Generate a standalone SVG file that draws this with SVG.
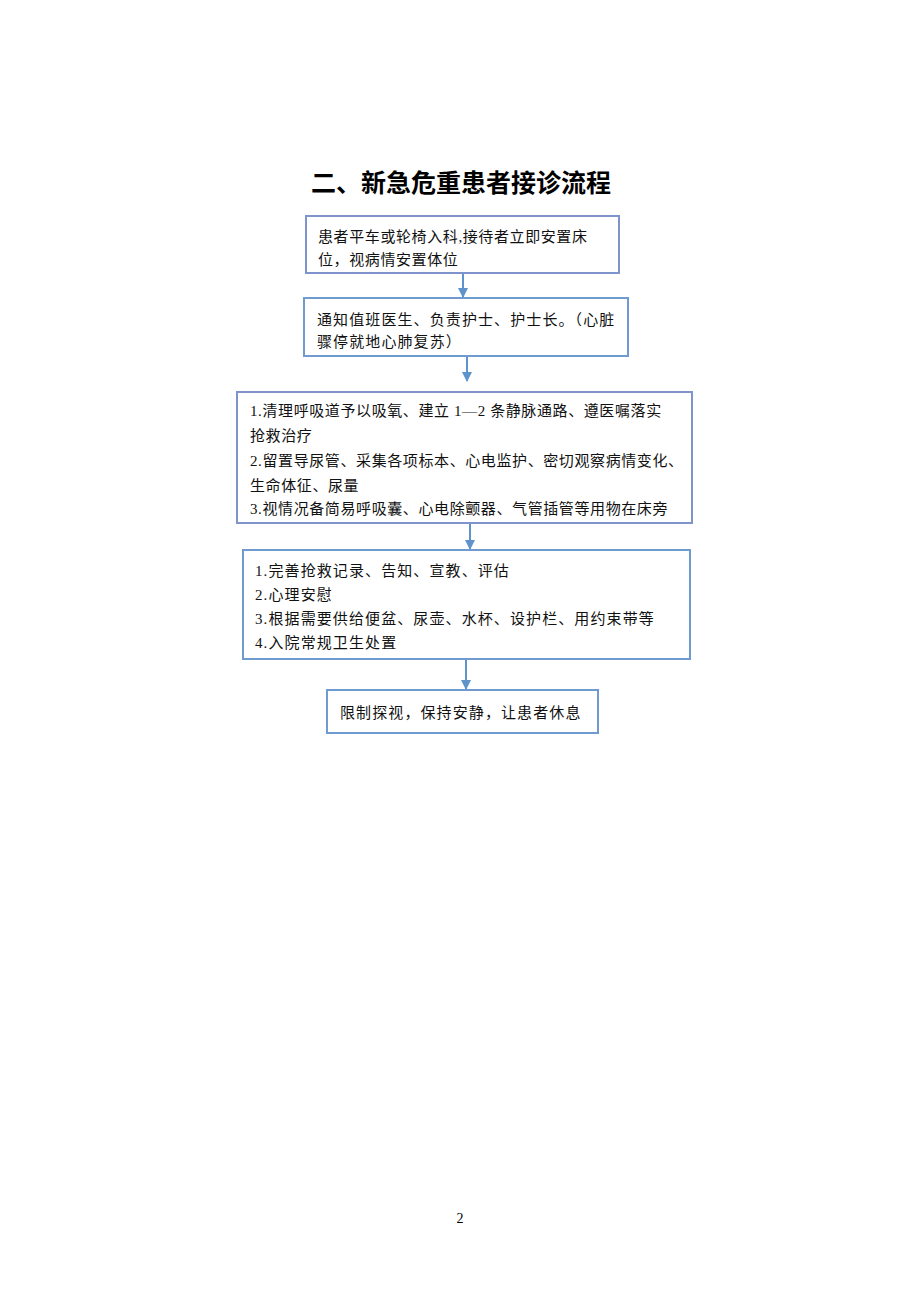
<svg xmlns="http://www.w3.org/2000/svg" width="920" height="1302" viewBox="0 0 920 1302">
<style>
.box{fill:#ffffff;stroke-width:2}
.b1{stroke:#7f93cc}
.b2{stroke:#6f9bd1}
.t{font-family:"Liberation Serif","Noto Sans CJK SC",serif;font-size:15px;fill:#111;letter-spacing:0.6px}
.w{letter-spacing:1.1px}
.title{font-family:"Liberation Sans","Noto Sans CJK SC",sans-serif;font-size:25px;font-weight:bold;fill:#000;text-anchor:middle}
.conn{stroke:#5f93cc;stroke-width:2;fill:none}
</style>
<defs>
<marker id="ah" viewBox="0 0 10 10" refX="9" refY="5" markerWidth="5" markerHeight="5" orient="auto" markerUnits="strokeWidth">
<path d="M0,0 L10,5 L0,10 z" fill="#5f93cc"/>
</marker>
</defs>
<rect width="920" height="1302" fill="#ffffff"/>
<text class="title" x="461" y="192">二、新急危重患者接诊流程</text>
<g id="connectors">
<line class="conn" x1="463" y1="273" x2="463" y2="297" marker-end="url(#ah)"/>
<line class="conn" x1="467" y1="356" x2="467" y2="381" marker-end="url(#ah)"/>
<line class="conn" x1="470" y1="523" x2="470" y2="549" marker-end="url(#ah)"/>
<line class="conn" x1="466" y1="659" x2="466" y2="689" marker-end="url(#ah)"/>
</g>
<g id="node1">
<rect class="box b1" x="306" y="216" width="313" height="57"/>
<text class="t" x="318" y="242" letter-spacing="1">患者平车或轮椅入科,接待者立即安置床</text>
<text class="t" x="318" y="265" letter-spacing="1">位，视病情安置体位</text>
</g>
<g id="node2">
<rect class="box b2" x="304" y="298" width="324" height="58"/>
<text class="t w" x="317" y="325">通知值班医生、负责护士、护士长。（心脏</text>
<text class="t w" x="317" y="347">骤停就地心肺复苏）</text>
</g>
<g id="node3">
<rect class="box b1" x="237" y="392" width="455" height="131"/>
<text class="t" x="250" y="416">1.清理呼吸道予以吸氧、建立 1—2 条静脉通路、遵医嘱落实</text>
<text class="t" x="250" y="441">抢救治疗</text>
<text class="t" x="250" y="466">2.留置导尿管、采集各项标本、心电监护、密切观察病情变化、</text>
<text class="t" x="250" y="491">生命体征、尿量</text>
<text class="t" x="250" y="514">3.视情况备简易呼吸囊、心电除颤器、气管插管等用物在床旁</text>
</g>
<g id="node4">
<rect class="box b2" x="243" y="550" width="447" height="109"/>
<text class="t w" x="255" y="576">1.完善抢救记录、告知、宣教、评估</text>
<text class="t w" x="255" y="600">2.心理安慰</text>
<text class="t w" x="255" y="624">3.根据需要供给便盆、尿壶、水杯、设护栏、用约束带等</text>
<text class="t w" x="255" y="648">4.入院常规卫生处置</text>
</g>
<g id="node5">
<rect class="box b2" x="327" y="690" width="271" height="43"/>
<text class="t w" x="340" y="718">限制探视，保持安静，让患者休息</text>
</g>
<text x="460" y="1223" font-family="Liberation Serif, serif" font-size="14" text-anchor="middle" fill="#000">2</text>
</svg>
